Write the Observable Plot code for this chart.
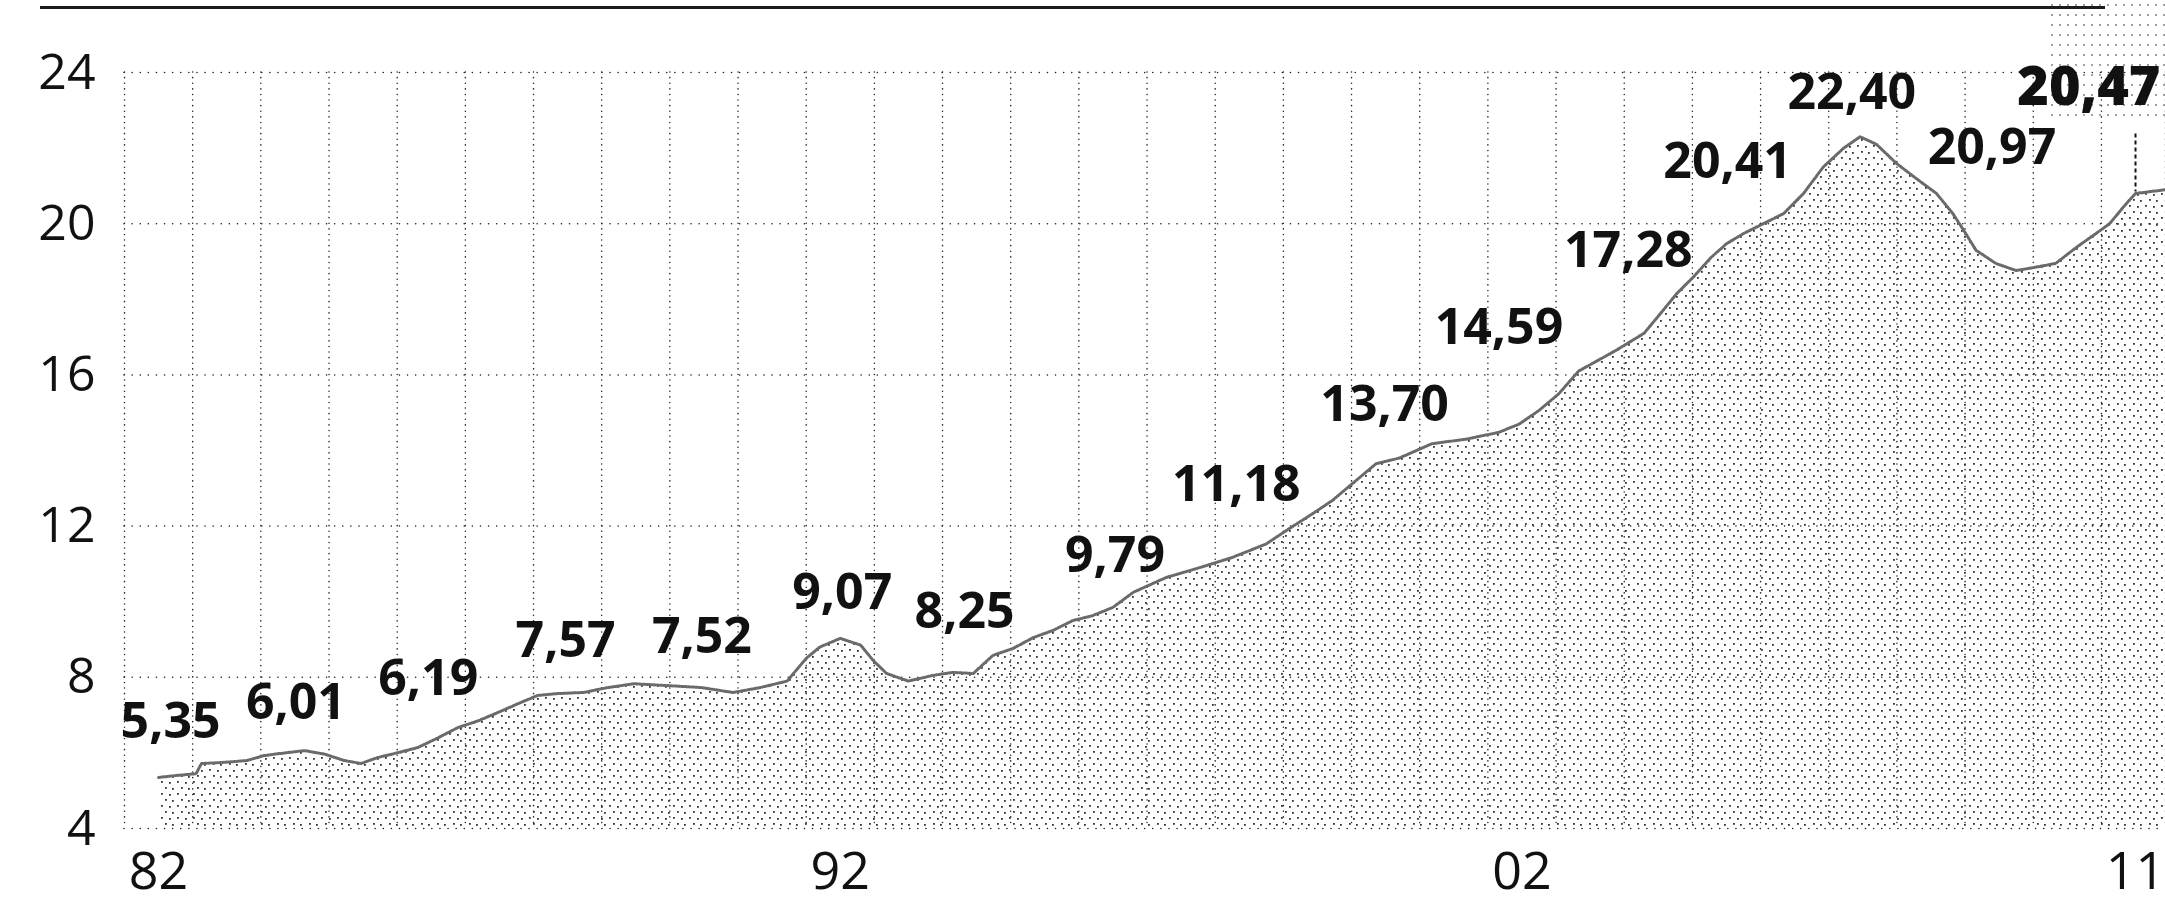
<!DOCTYPE html>
<html>
<head>
<meta charset="utf-8">
<script src="https://cdn.jsdelivr.net/npm/d3@7"></script>
<script src="https://cdn.jsdelivr.net/npm/@observablehq/plot@0.6"></script>
<style>
  body { margin: 0; background: #fff; }
  #wrap { position: relative; width: 2165px; height: 907px; overflow: hidden; background: #fff; }
  #rule { position: absolute; left: 40px; top: 6px; width: 2065px; height: 3px; background: #1a1a1a; }
  #patch { position: absolute; left: 2048px; top: 0; width: 117px; height: 118px;
           background-image: radial-gradient(#555 0.9px, transparent 1.3px);
           background-size: 8px 10px; opacity: 0.55; }
  #wrap svg { position: absolute; left: 0; top: 0; }
</style>
</head>
<body>
<div id="wrap"><div id="patch"></div><div id="rule"></div></div>
<script>
// ---- data ----
const seriesT = [1982.00, 1982.25, 1982.55, 1982.63, 1982.97, 1983.30, 1983.55, 1983.85, 1984.14, 1984.43,
  1984.72, 1984.97, 1985.22, 1985.50, 1985.80, 1986.10, 1986.39, 1986.69, 1986.98, 1987.27,
  1987.56, 1987.86, 1988.24, 1988.59, 1988.97, 1989.47, 1989.95, 1990.43, 1990.83, 1991.22,
  1991.50, 1991.70, 1992.00, 1992.30, 1992.48, 1992.68, 1993.00, 1993.36, 1993.65, 1993.95,
  1994.24, 1994.53, 1994.83, 1995.12, 1995.41, 1995.70, 1996.00, 1996.30, 1996.78, 1997.27,
  1997.75, 1998.25, 1998.54, 1998.93, 1999.22, 1999.51, 1999.86, 2000.20, 2000.68, 2001.18,
  2001.66, 2001.96, 2002.25, 2002.54, 2002.83, 2003.13, 2003.38, 2003.79, 2004.03, 2004.27,
  2004.52, 2004.77, 2005.00, 2005.25, 2005.54, 2005.84, 2006.13, 2006.42, 2006.72, 2006.96,
  2007.20, 2007.49, 2007.78, 2008.08, 2008.32, 2008.51, 2008.66, 2008.95, 2009.25, 2009.54,
  2009.83, 2010.13, 2010.42, 2010.62, 2010.85, 2011.00, 2011.44];
const seriesV = [5.35, 5.40, 5.45, 5.72, 5.75, 5.80, 5.93, 6.00, 6.06, 5.97,
  5.80, 5.72, 5.88, 6.00, 6.14, 6.40, 6.67, 6.85, 7.07, 7.30,
  7.52, 7.57, 7.60, 7.73, 7.83, 7.78, 7.73, 7.60, 7.73, 7.90,
  8.50, 8.80, 9.03, 8.85, 8.45, 8.10, 7.90, 8.05, 8.13, 8.10,
  8.58, 8.76, 9.05, 9.24, 9.50, 9.63, 9.85, 10.25, 10.64, 10.90,
  11.17, 11.53, 11.88, 12.33, 12.68, 13.12, 13.65, 13.80, 14.18, 14.30,
  14.48, 14.70, 15.06, 15.50, 16.10, 16.40, 16.65, 17.10, 17.62, 18.15,
  18.60, 19.10, 19.47, 19.74, 20.00, 20.27, 20.80, 21.50, 22.00, 22.30,
  22.10, 21.60, 21.20, 20.80, 20.27, 19.74, 19.30, 18.95, 18.76, 18.85,
  18.95, 19.37, 19.74, 20.00, 20.50, 20.80, 20.90];

const labelYears  = [1982, 1984, 1986, 1988, 1990, 1992, 1994, 1996, 1998, 2000, 2002, 2004, 2006, 2007, 2008, 2011];
const labelValues = [5.35, 6.01, 6.19, 7.57, 7.52, 9.07, 8.25, 9.79, 11.18, 13.70, 14.59, 17.28, 20.41, 22.40, 20.97, 20.47];

const xTickYears  = [1982, 1992, 2002, 2011];
const xTickLabels = ["82", "92", "02", "11"];
const yTicks      = [4, 8, 12, 16, 20, 24];
const xDomain     = [1981.5, 2011.44];
const yDomain     = [4, 24];

// ---- layout (offsets of each value label from its point, in px) ----
const labelNudge = [[12,-55],[1,-50],[-3,-67],[-2,-53],[-2,-58],[2,-44],[-12,-56],[2,-54],
  [-13,-72],[-1,-57],[-23,-100],[-30,-76],[-67,-46],[-11,-40],[61,-39],[25,-118]];

const series = seriesT.map((t, i) => ({t, v: seriesV[i]}));
const labels = labelYears.map((t, i) => ({t, v: labelValues[i], text: labelValues[i].toFixed(2).replace(".", ",")}));
const gridYears = d3.range(xDomain[0], 2011, 1);
const tickName = new Map(xTickYears.map((y, i) => [y, xTickLabels[i]]));
const last = labels.length - 1;

const dots = {stroke: "#222", strokeWidth: 1.5, strokeLinecap: "round"};

const chart = Plot.plot({
  width: 2165,
  height: 907,
  marginLeft: 124,
  marginRight: 0,
  marginTop: 72,
  marginBottom: 79,
  style: {fontFamily: "'Open Sans', sans-serif", background: "transparent", color: "#111"},
  x: {domain: xDomain, axis: null, label: null},
  y: {domain: yDomain, axis: null, label: null},
  marks: [
    Plot.ruleX(gridYears, {...dots, strokeDasharray: "0.1 5.5"}),
    Plot.ruleX([xDomain[1]], {...dots, strokeDasharray: "0.1 5.5"}),
    Plot.ruleY(yTicks, {...dots, strokeDasharray: "0.1 8"}),
    Plot.areaY(series, {x: "t", y1: yDomain[0], y2: "v", fill: "url(#halftone)", curve: "linear"}),
    Plot.line(series, {x: "t", y: "v", stroke: "#6a6a6a", strokeWidth: 3, strokeDasharray: "2 1.5", curve: "linear"}),
    Plot.ruleX([labels[last]], {x: "t", y1: "v", y2: "v", insetTop: -72, insetBottom: 14, stroke: "#111", strokeWidth: 2, strokeDasharray: "4 3"}),
    Plot.axisY(yTicks, {label: null, tickSize: 0, tickPadding: 29, fontSize: 50, fontWeight: 500, tickFormat: d => String(d)}),
    Plot.axisX(xTickYears, {label: null, tickSize: 0, tickPadding: 24, fontSize: 52, fontWeight: 500, tickFormat: d => tickName.get(d)}),
    ...labels.map((d, i) => Plot.text([d], {
      x: "t", y: "v", text: "text",
      dx: labelNudge[i][0], dy: labelNudge[i][1],
      textAnchor: i === last ? "end" : "middle",
      fontSize: i === last ? 54 : 50,
      fontWeight: i === last ? 800 : 700,
      fill: "#111"
    }))
  ]
});

// halftone screen used for the area fill
const NS = "http://www.w3.org/2000/svg";
const defs = document.createElementNS(NS, "defs");
const pat = document.createElementNS(NS, "pattern");
pat.setAttribute("id", "halftone");
pat.setAttribute("patternUnits", "userSpaceOnUse");
pat.setAttribute("width", "16");
pat.setAttribute("height", "12");
[[1,1],[9,2],[5,7],[12,8]].forEach(([x, y]) => {
  const r = document.createElementNS(NS, "rect");
  r.setAttribute("x", x); r.setAttribute("y", y);
  r.setAttribute("width", 1.8); r.setAttribute("height", 1.8);
  r.setAttribute("fill", "#333");
  pat.appendChild(r);
});
defs.appendChild(pat);
chart.insertBefore(defs, chart.firstChild);

document.getElementById("wrap").appendChild(chart);
</script>
</body>
</html>
